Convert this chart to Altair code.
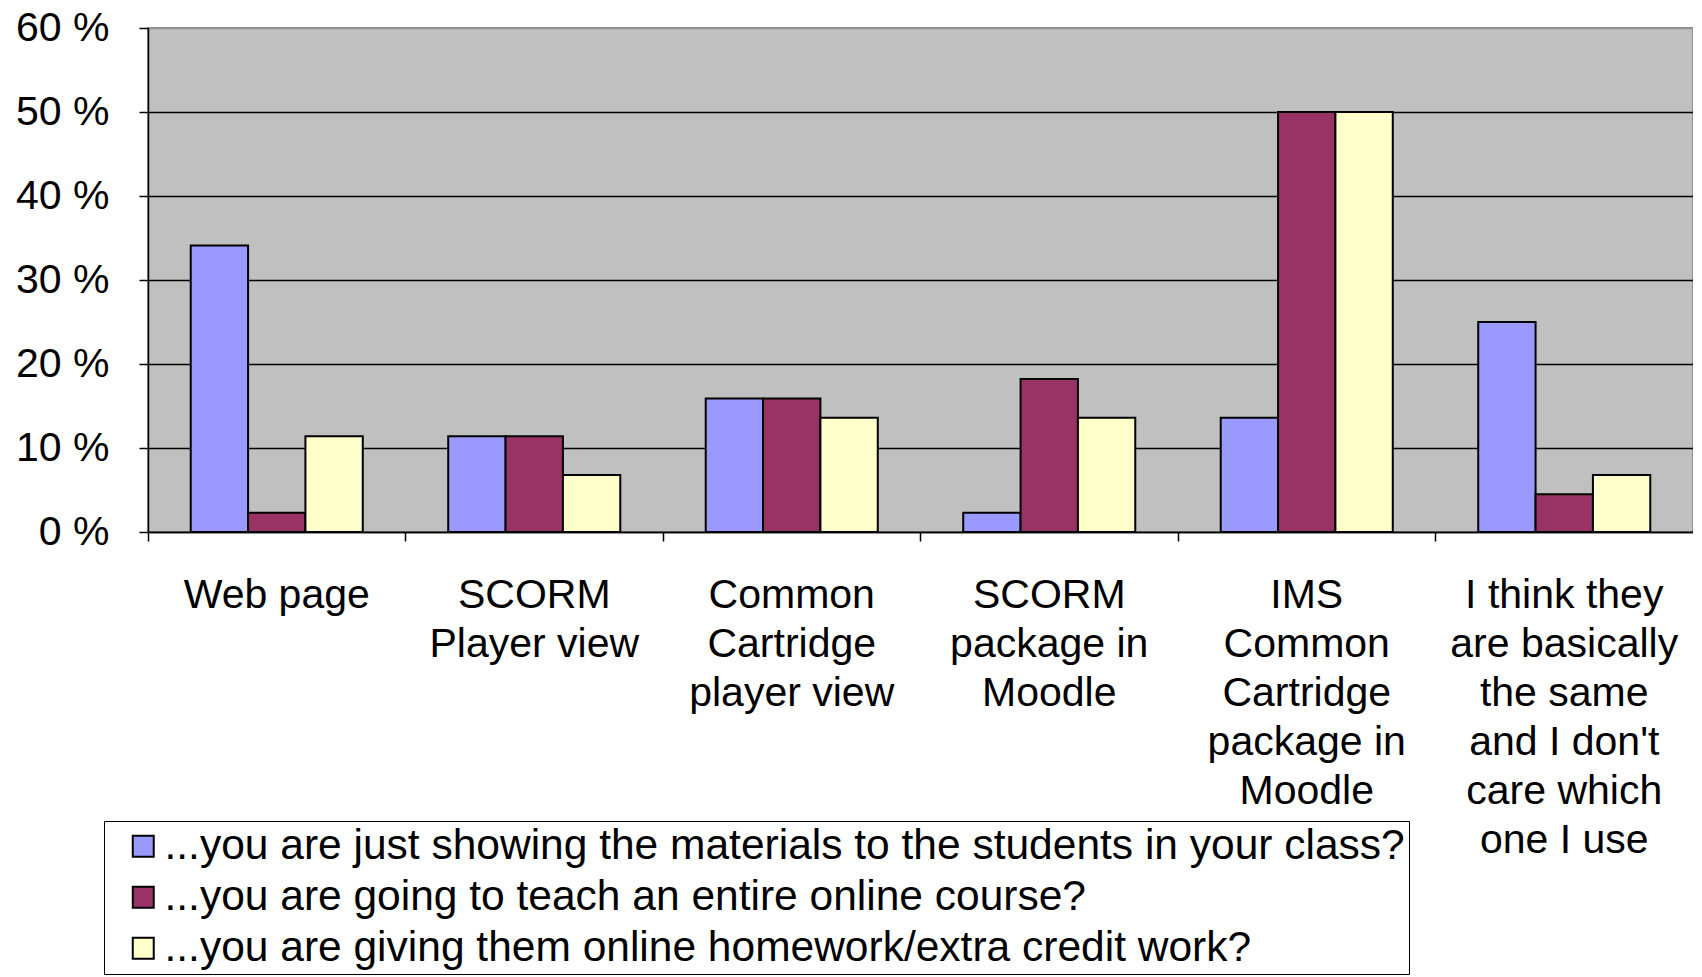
import altair as alt
import pandas as pd

category_lines = [
    ["Web page"],
    ["SCORM", "Player  view"],
    ["Common", "Cartridge", "player view"],
    ["SCORM", "package in", "Moodle"],
    ["IMS", "Common", "Cartridge", "package in", "Moodle"],
    ["I think they", "are basically", "the same", "and I don't", "care which", "one I use"],
]
categories = ["|".join(lines) for lines in category_lines]

series = [
    "...you are just showing the materials to the students in your class?",
    "...you are going to teach an entire online course?",
    "...you are giving them online homework/extra credit work?",
]
showing = [34.1, 11.4, 15.9, 2.3, 13.6, 25.0]
course = [2.3, 11.4, 15.9, 18.2, 50.0, 4.5]
homework = [11.4, 6.8, 13.6, 13.6, 50.0, 6.8]
colors = ["#9999FF", "#993366", "#FFFFCC"]
y_ticks = [0, 10, 20, 30, 40, 50, 60]

rows = []
for i, c in enumerate(categories):
    for s, vals in zip(series, [showing, course, homework]):
        rows.append({"category": c, "series": s, "value": vals[i]})
df = pd.DataFrame(rows)

W = 1545
H = 504
FONT = "Liberation Sans"

chart = alt.Chart(df).mark_bar(stroke="black", strokeWidth=2).encode(
    x=alt.X(
        "category:N",
        sort=categories,
        scale=alt.Scale(paddingInner=0, paddingOuter=0),
        axis=alt.Axis(
            title=None,
            labelExpr="split(datum.label, '|')",
            labelAngle=0,
            bandPosition=0,
            labelAlign="center",
            labelBaseline="top",
            labelLineHeight=49,
            labelPadding=34,
            labelOverlap=False,
            labelBound=False,
            labelLimit=0,
            tickSize=9,
            grid=False,
        ),
    ),
    xOffset=alt.XOffset(
        "series:N",
        sort=series,
        scale=alt.Scale(paddingInner=0, paddingOuter=0.745),
    ),
    y=alt.Y(
        "value:Q",
        scale=alt.Scale(domain=[0, 60], nice=False),
        axis=alt.Axis(
            title=None,
            values=y_ticks,
            labelExpr="datum.value + ' %'",
            tickSize=9,
            labelPadding=30,
            grid=True,
            gridColor={"condition": {"test": "datum.value == 60", "value": "#909090"}, "value": "black"},
        ),
    ),
    color=alt.Color(
        "series:N",
        sort=series,
        scale=alt.Scale(domain=series, range=colors),
        legend=alt.Legend(
            title=None,
            orient="none",
            legendX=-44,
            legendY=793,
            direction="vertical",
            labelFont=FONT,
            labelFontSize=42.5,
            labelColor="black",
            labelLimit=2000,
            symbolType="square",
            symbolSize=440,
            symbolStrokeColor="black",
            symbolStrokeWidth=2,
            symbolOffset=14,
            padding=4,
            rowPadding=8,
            labelOffset=0,
            strokeColor="black",
            fillColor="white",
        ),
    ),
).properties(
    width=W,
    height=H,
    autosize=alt.AutoSizeParams(type="none"),
    padding={"left": 140, "top": 20, "right": 0, "bottom": 446},
).configure_view(
    fill="#C0C0C0", stroke="#909090", strokeWidth=2
).configure_axis(
    labelFont=FONT,
    labelFontSize=41,
    labelColor="black",
    domainColor="black",
    domainWidth=1.5,
    tickColor="black",
    tickWidth=1.5,
    gridWidth=1.5,
)

chart.save("out.html", embed_options={"renderer": "svg", "actions": False})
